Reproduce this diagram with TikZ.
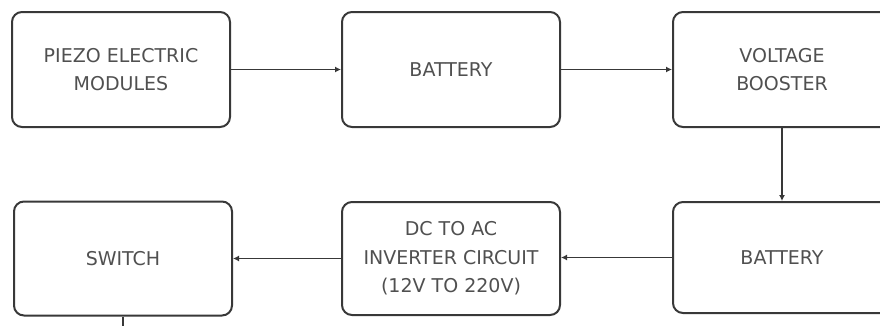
\documentclass[tikz,border=0pt]{standalone}
\usepackage{fontspec}
\setmainfont{DejaVu Sans}
\usetikzlibrary{arrows.meta}
\definecolor{boxline}{HTML}{383838}
\definecolor{txt}{HTML}{505050}
\tikzset{
  blk/.style={draw=boxline, line width=2pt, rounded corners=10pt, fill=white,
    minimum width=218pt, inner sep=0pt, align=center, text=txt,
    font=\fontsize{19}{28.5}\selectfont},
  conn/.style={draw=boxline, line width=1.8pt, -{Latex[length=6pt,width=6pt]}},
  plain/.style={draw=boxline, line width=1.8pt}
}
\begin{document}
\begin{tikzpicture}[x=1pt,y=-1pt]
\useasboundingbox (0,0) rectangle (880,325);
\node[blk, minimum height=115pt] (a) at (121,69.5) {PIEZO ELECTRIC\\MODULES};
\node[blk, minimum height=115pt] (b) at (451,69.5) {BATTERY};
\node[blk, minimum height=115pt] (c) at (782,69.5) {VOLTAGE\\BOOSTER};
\node[blk, minimum height=114pt] (d) at (123,258.5) {SWITCH};
\node[blk, minimum height=113pt] (e) at (451,258.5) {DC TO AC\\INVERTER CIRCUIT\\(12V TO 220V)};
\node[blk, minimum height=111pt] (f) at (782,257.5) {BATTERY};
\coordinate (g) at (123,335);
\draw[conn] (a) -- (b);
\draw[conn] (b) -- (c);
\draw[conn] (c.south) -- (f.north);
\draw[conn] (f.west) -- (e.east |- f.west);
\draw[conn] (e.west) -- (d.east |- e.west);
\draw[plain] (d.south) -- (g);
\end{tikzpicture}
\end{document}
